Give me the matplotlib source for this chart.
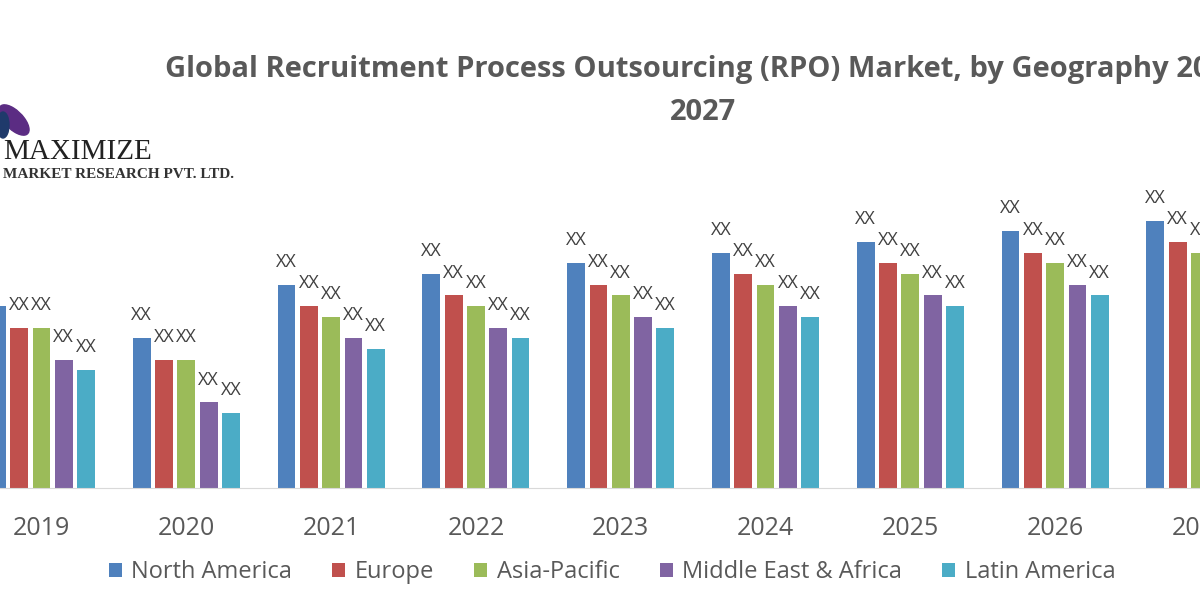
import matplotlib.pyplot as plt
import numpy as np
from matplotlib.patches import Ellipse

# Datos (valores relativos, etiquetas "XX")
anios = ["2019", "2020", "2021", "2022", "2023", "2024", "2025", "2026", "2027"]
regiones = ["North America", "Europe", "Asia-Pacific", "Middle East & Africa", "Latin America"]
north_america = [17, 14, 19, 20, 21, 22, 23, 24, 25]
europe = [15, 12, 17, 18, 19, 20, 21, 22, 23]
asia_pacific = [15, 12, 16, 17, 18, 19, 20, 21, 22]
middle_east_africa = [12, 8, 14, 15, 16, 17, 18, 19, 20]
latin_america = [11, 7, 13, 14, 15, 16, 17, 18, 19]
colores = ["#4F81BD", "#C0504D", "#9BBB59", "#8064A2", "#4BACC6"]

series = [north_america, europe, asia_pacific, middle_east_africa, latin_america]
gris = "#595959"

fig = plt.figure(figsize=(12, 6), dpi=100)
ax = fig.add_axes([0, 112 / 600, 1, 308 / 600])

x = np.arange(len(anios))
paso = 0.154
ancho = 0.123
for i, (valores, color, nombre) in enumerate(zip(series, colores, regiones)):
    barras = ax.bar(x + (i - 2) * paso, valores, width=ancho, color=color, label=nombre)
    ax.bar_label(barras, labels=["XX"] * len(valores), padding=10,
                 fontsize=13, color="#404040", family="Open Sans")

ax.set_xlim(-42 / 146.5, (1200 - 42) / 146.5)
ax.set_ylim(0, 308 / 10.7)
ax.set_xticks(x)
ax.set_xticklabels(anios, fontsize=18, color=gris, family="Open Sans")
ax.tick_params(axis="x", length=0, pad=20)
ax.set_yticks([])
for lado in ["top", "right", "left"]:
    ax.spines[lado].set_visible(False)
ax.spines["bottom"].set_color("#D9D9D9")
ax.set_facecolor("none")

# Titulo (cortado a la derecha como en la imagen original)
fig.text(165 / 1200, 1 - 70 / 600,
         "Global Recruitment Process Outsourcing (RPO) Market, by Geography 2019-",
         ha="left", va="center", fontsize=21, fontweight="bold", color=gris,
         family="Open Sans")
fig.text(703 / 1200, 1 - 113 / 600, "2027",
         ha="center", va="center", fontsize=21, fontweight="bold", color=gris,
         family="Open Sans")

# Logo
fig.patches.append(Ellipse((14 / 1200, 1 - 120 / 600), 22 / 1200, 32 / 600, angle=20,
                           transform=fig.transFigure, color="#5B2C83"))
fig.patches.append(Ellipse((3 / 1200, 1 - 125 / 600), 12 / 1200, 26 / 600,
                           transform=fig.transFigure, color="#1F3A6B"))
fig.text(3 / 1200, 1 - 152 / 600, "MAXIMIZE", fontsize=21, family="Liberation Serif",
         color="#222222", va="center", ha="left")
fig.text(3 / 1200, 1 - 174 / 600, "MARKET RESEARCH PVT. LTD.", fontsize=11, fontweight="bold",
         family="Liberation Serif", color="#333333", va="center", ha="left")

# Leyenda
fig.legend(loc="center", bbox_to_anchor=(612 / 1200, 1 - 572 / 600), ncol=5, frameon=False,
           prop={"family": "Open Sans", "size": 17}, labelcolor=gris,
           handlelength=0.55, handleheight=0.55, handletextpad=0.4, columnspacing=1.7)

fig.savefig("out.png", dpi=100)
